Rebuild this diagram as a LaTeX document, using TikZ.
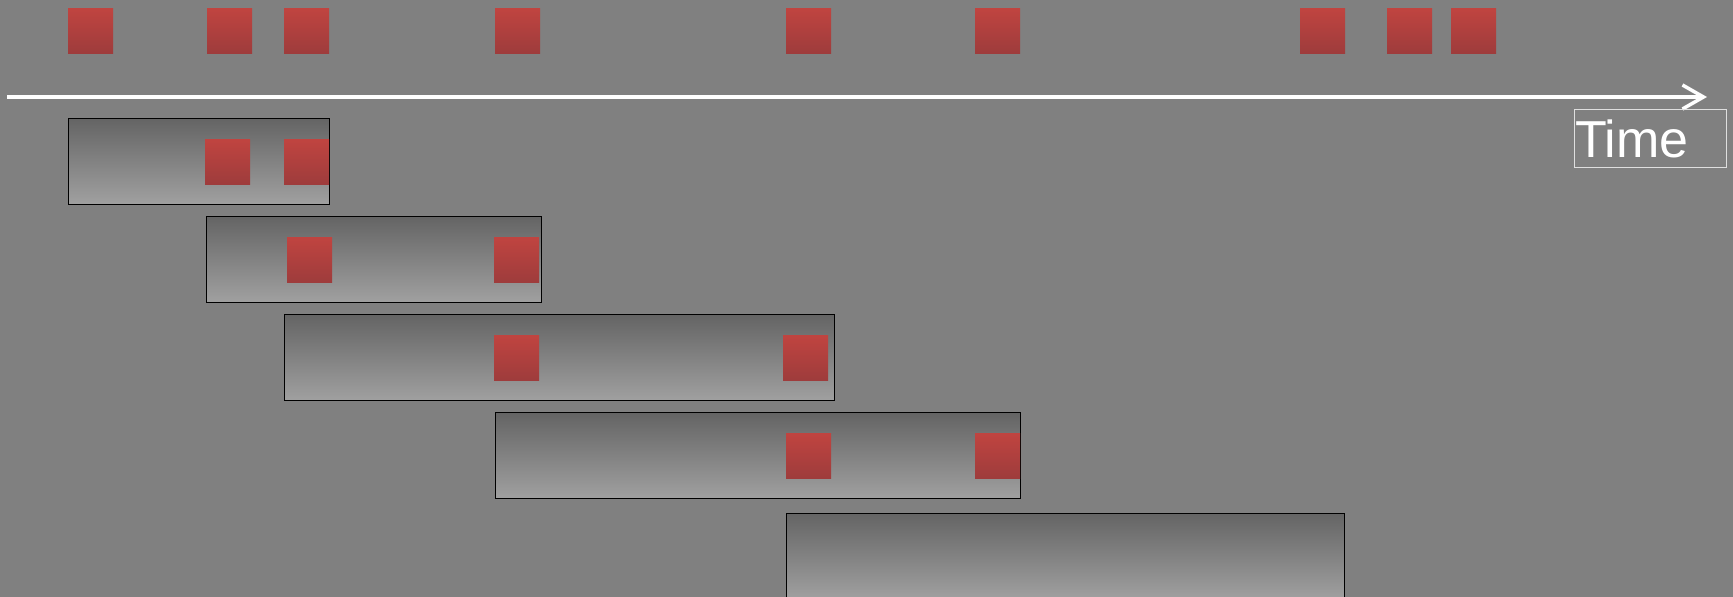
\documentclass[tikz,border=0pt]{standalone}
\usepackage{fontspec}
\setmainfont{Liberation Sans}
\usetikzlibrary{arrows.meta,positioning}
\definecolor{bg}{RGB}{128,128,128}
\definecolor{evtop}{RGB}{192,68,64}
\definecolor{evbot}{RGB}{158,60,60}
\definecolor{wintop}{RGB}{100,100,100}
\definecolor{winbot}{RGB}{160,160,160}
\begin{document}
\begin{tikzpicture}[x=1pt,y=-1pt]
\tikzstyle{evt}=[anchor=north west,inner sep=0pt,minimum size=45pt,top color=evtop,bottom color=evbot]
\tikzstyle{win}=[draw=black,line width=0.9pt,inner sep=0pt,minimum height=86pt,top color=wintop,bottom color=winbot]
\tikzstyle{axis}=[white,line width=4pt,-{Straight Barb[length=21pt,width=24pt,line width=3.5pt]}]
\fill[bg] (0,0) rectangle (1733,597);
\clip (0,0) rectangle (1733,597);
% events on the time line
\foreach \x [count=\i] in {68,207,284,495,786,975,1300,1387,1451}
  \node[evt] (e\i) at (\x,8) {};
\coordinate (t0) at (7,97);
\coordinate (t1) at (1707,97);
\draw[axis] (t0) -- (t1);
\node[draw=white!75!bg,line width=1pt,anchor=north west,minimum width=152pt,minimum height=58pt,
  text width=151pt,inner xsep=0.5pt,align=left,text=white,font=\fontsize{52}{60}\selectfont] (time) at (1574,109) {Time};
% sliding windows
\node[win,minimum width=261pt] (w1) at (198.5,161) {};
\node[win,minimum width=335pt] (w2) at (373.5,259) {};
\node[win,minimum width=550pt] (w3) at (559,357.5) {};
\node[win,minimum width=525pt] (w4) at (757.5,455.5) {};
\node[win,minimum width=558pt] (w5) at (1065,556) {};
% events inside each window
\node[evt] (a1) at (205,139) {};
\node[evt] (a2) at (284,139) {};
\node[evt] (b1) at (287,237) {};
\node[evt] (b2) at (494,237) {};
\node[evt] (c1) at (494,335) {};
\node[evt] (c2) at (783,335) {};
\node[evt] (d1) at (786,433) {};
\node[evt] (d2) at (975,433) {};
\end{tikzpicture}
\end{document}
